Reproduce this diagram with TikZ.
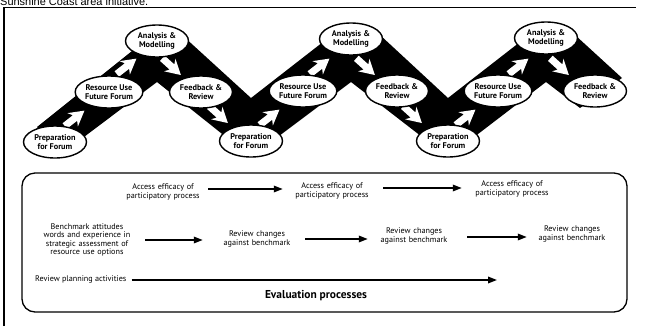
\documentclass[tikz,border=0pt]{standalone}
\usepackage{fontspec}
\setmainfont{PT Sans}
\newfontfamily\capfont{Liberation Sans}
\usetikzlibrary{shapes.geometric,arrows.meta}
\begin{document}
\begin{tikzpicture}[x=1bp,y=-1bp,
  stage/.style={ellipse,draw,fill=white,line width=1.4bp,minimum width=63bp,minimum height=32bp,
    inner sep=0pt,align=center,font=\bfseries\fontsize{8.3}{8.8}\selectfont},
  evtext/.style={align=center,inner sep=0pt,font=\fontsize{8.2}{8.2}\selectfont},
  earrow/.style={line width=1.7bp,-{Triangle[length=9bp,width=6.5bp]}},
  warrow/.pic={\fill[white] (-13,-3.5) -- (0,-3.5) -- (-3,-8.5) -- (12,0) -- (-3,8.5) -- (0,3.5) -- (-13,3.5) -- cycle;}
]
\useasboundingbox (0,0) rectangle (645,326);
% caption (partly cut by the page edge)
\node[anchor=base west,inner sep=0pt,font=\capfont\fontsize{11}{13}\selectfont] (cap) at (0,5.8) {Sunshine Coast area initiative.};
% frame
\draw[line width=1.5bp] (4,326) -- (4,7.5) -- (636,7.5);
% zig-zag band
\fill[black] (37,127) -- (152,35) -- (182,35) -- (251,98) -- (332,35) -- (380,35) -- (448,98)
  -- (529,35) -- (575,35) -- (622,78) -- (580,108) -- (546,82) -- (448,157) -- (351,82)
  -- (251,157) -- (157,82) -- (60,155) -- cycle;
% white flow arrows
\foreach \x/\y in {75/118,127/66,270/117,320/66,466/117,519/66}
  \pic[rotate=38] at (\x,\y) {warrow};
\foreach \x/\y in {172/67,219/115,366/67,413/115,560/67}
  \pic[rotate=-42] at (\x,\y) {warrow};
% stages
\node[stage] (p1) at (55,142) {Preparation\\for Forum};
\node[stage] (r1) at (109,92) {Resource Use\\Future Forum};
\node[stage] (a1) at (157,41) {Analysis \&\\Modelling};
\node[stage] (f1) at (201,92) {Feedback \&\\Review};
\node[stage] (p2) at (251,141) {Preparation\\for Forum};
\node[stage] (r2) at (303,91) {Resource Use\\Future Forum};
\node[stage] (a2) at (351,39) {Analysis \&\\Modelling};
\node[stage] (f2) at (397,91) {Feedback \&\\Review};
\node[stage] (p3) at (448,141) {Preparation\\for Forum};
\node[stage] (r3) at (498,91) {Resource Use\\Future Forum};
\node[stage] (a3) at (546,38) {Analysis \&\\Modelling};
\node[stage] (f3) at (595,91) {Feedback \&\\Review};
% evaluation box
\draw[line width=1.3bp,rounded corners=13bp] (22,173) rectangle (627,312);
\node[evtext,text width=86bp] (e1) at (163,192) {Access efficacy of\\participatory process};
\node[evtext,text width=86bp] (e2) at (332,191) {Access efficacy of\\participatory process};
\node[evtext,text width=86bp] (e3) at (512,189) {Access efficacy of\\participatory process};
\draw[earrow,shorten <=2bp,shorten >=6bp] ([yshift=3bp]e1.east) -- ([yshift=3bp]e1.east -| e2.west);
\draw[earrow,shorten <=8bp,shorten >=7bp] ([yshift=3bp]e2.east) -- ([yshift=3bp]e2.east -| e3.west);
\node[evtext,text width=110bp] (b0) at (87,240) {Benchmark attitudes\\words and experience in\\strategic assessment of\\resource use options};
\node[evtext,text width=90bp] (b1) at (257,239) {Review changes\\against benchmark};
\node[evtext,text width=90bp] (b2) at (414,236) {Review changes\\against benchmark};
\node[evtext,text width=90bp] (b3) at (572,234) {Review changes\\against benchmark};
\draw[earrow,shorten <=3bp,shorten >=9bp] (b0.east) -- (b0.east -| b1.west);
\draw[earrow,shorten <=3bp,shorten >=1bp] (b1.east) -- (b1.east -| b2.west);
\draw[earrow,shorten <=8bp,shorten >=0bp] ([yshift=-1bp]b2.east) -- ([yshift=-1bp]b2.east -| b3.west);
\node[evtext,anchor=west] (rp) at (35,279) {Review planning activities};
\coordinate (rpend) at (497,280);
\draw[earrow] ([xshift=5bp]rp.east |- rpend) -- (rpend);
\node[inner sep=0pt,font=\bfseries\fontsize{11.5}{13}\selectfont] (ev) at (316,296) {Evaluation processes};
\end{tikzpicture}
\end{document}
